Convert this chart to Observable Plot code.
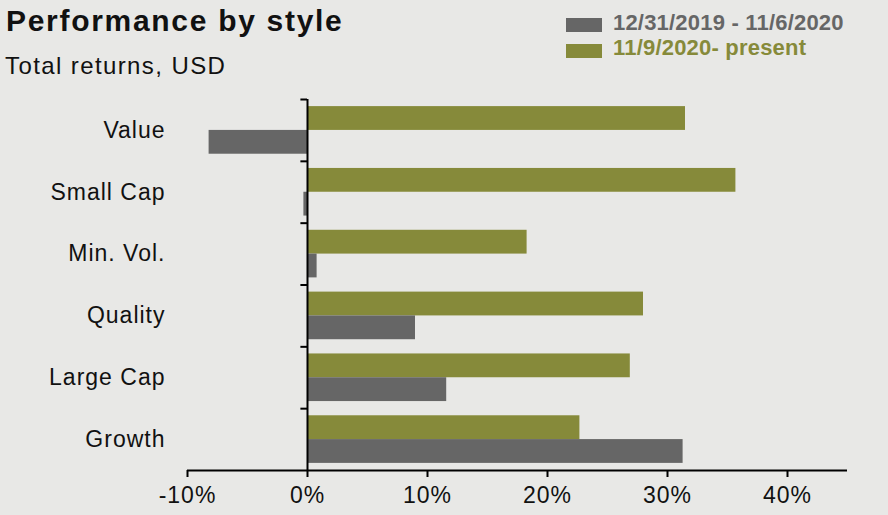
<!DOCTYPE html>
<html>
<head>
<meta charset="utf-8">
<script src="https://cdn.jsdelivr.net/npm/d3@7"></script>
<script src="https://cdn.jsdelivr.net/npm/@observablehq/plot@0.6"></script>
<style>
  html, body { margin: 0; padding: 0; background: #e8e8e6; }
  body { width: 888px; height: 515px; overflow: hidden; font-family: "Liberation Sans", Arial, sans-serif; }
  #wrap { position: relative; width: 888px; height: 515px; }
  #head { position: relative; height: 88px; }
  .t { position: absolute; white-space: nowrap; line-height: 1; }
  #title { left: 6px; top: 6px; font-size: 30px; font-weight: bold; color: #111; letter-spacing: 1.7px; }
  #subtitle { left: 5px; top: 54px; font-size: 24px; color: #111; letter-spacing: 1.4px; }
  .sw { position: absolute; width: 36px; height: 14px; }
  .lg { font-size: 22px; font-weight: bold; letter-spacing: 0.2px; }
  #chart svg text { letter-spacing: 1px; }
</style>
</head>
<body>
<div id="wrap">
  <div id="head">
    <div id="title" class="t">Performance by style</div>
    <div id="subtitle" class="t">Total returns, USD</div>
    <div class="sw" style="left:566px;top:18px;background:#666666"></div>
    <div class="t lg" style="left:613px;top:12px;color:#666666">12/31/2019 - 11/6/2020</div>
    <div class="sw" style="left:566px;top:44px;background:#868a3a"></div>
    <div class="t lg" style="left:613px;top:37px;color:#868a3a">11/9/2020- present</div>
  </div>
  <div id="chart"></div>
</div>
<script>
const categories = ["Value", "Small Cap", "Min. Vol.", "Quality", "Large Cap", "Growth"];
const seriesNames = ["12/31/2019 - 11/6/2020", "11/9/2020- present"];
const period1 = [-8.2, -0.3, 0.8, 9.0, 11.6, 31.3];
const period2 = [31.5, 35.7, 18.3, 28.0, 26.9, 22.7];
const xTicks = [-10, 0, 10, 20, 30, 40];
const colors = ["#666666", "#868a3a"];

const rows = [];
categories.forEach((c, i) => {
  rows.push({cat: c, series: seriesNames[1], value: period2[i], y1: i + 0.115, y2: i + 0.5});
  rows.push({cat: c, series: seriesNames[0], value: period1[i], y1: i + 0.5, y2: i + 0.885});
});

const chart = Plot.plot({
  width: 888,
  height: 427,
  marginLeft: 187,
  marginRight: 41,
  marginTop: 11,
  marginBottom: 45,
  style: {background: "transparent", fontFamily: "'Liberation Sans', Arial, sans-serif", color: "#111"},
  x: {domain: [-10, 45], axis: null},
  y: {domain: [0, 6], reverse: true, axis: null},
  color: {domain: seriesNames, range: colors},
  marks: [
    Plot.rect(rows, {x1: 0, x2: "value", y1: "y1", y2: "y2", fill: "series"}),
    Plot.ruleX([0], {stroke: "#000", strokeWidth: 2}),
    Plot.ruleY(d3.range(categories.length), {x1: -0.55, x2: 0, stroke: "#000", strokeWidth: 2}),
    Plot.ruleY([categories.length], {stroke: "#000", strokeWidth: 2}),
    Plot.axisX({ticks: xTicks, tickFormat: d => d + "%", tickSize: 7, tickPadding: 9, strokeWidth: 2, stroke: "#000", fontSize: 23, fill: "#111", label: null}),
    Plot.axisY({ticks: d3.range(categories.length).map(i => i + 0.5), tickFormat: d => categories[Math.floor(d)], tickSize: 0, tickPadding: 22, fontSize: 23, fill: "#111", label: null})
  ]
});
document.getElementById("chart").appendChild(chart);
</script>
</body>
</html>
